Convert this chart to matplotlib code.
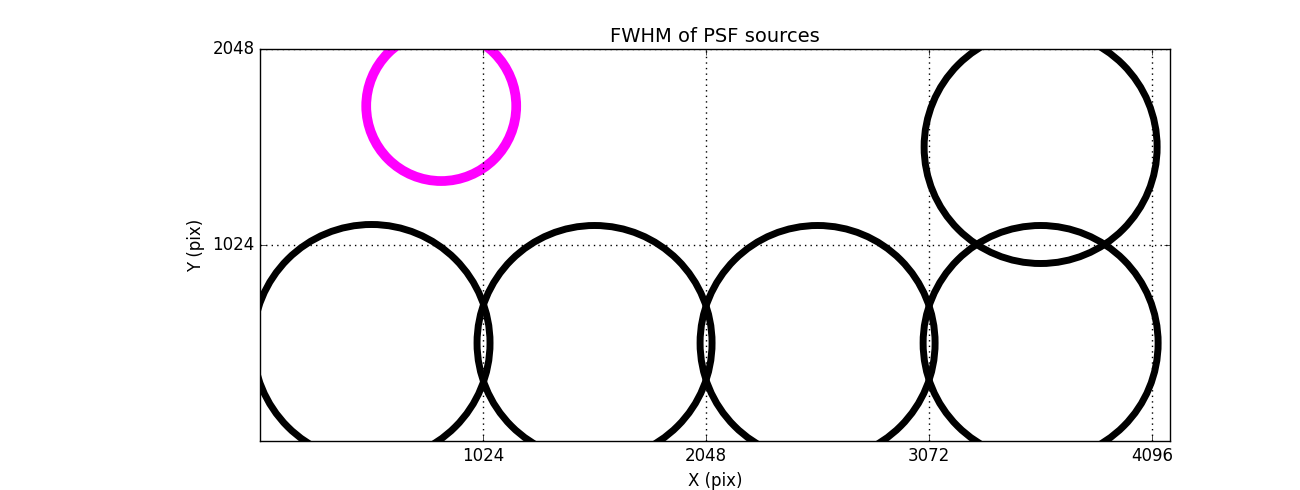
import numpy as np
import matplotlib
matplotlib.use('Agg')
import matplotlib.pyplot as plt

plt.style.use('classic')

# source positions (pix) and marker sizes (FWHM drawn as circle radius, screen px)
x_pos = [512, 1536, 2560, 3584, 3584]
y_pos = [512, 512, 512, 512, 1536]
radius_px = [118.5, 117.5, 117.5, 117.5, 116.5]

# highlighted source
x_hi = [832]
y_hi = [1750]
radius_hi = [75]

x_ticks = [1024, 2048, 3072, 4096]
y_ticks = [1024, 2048]

def size_from_radius(r):
    # scatter size is in points^2, diameter in points
    return (2 * np.asarray(r) * 72.0 / 100.0) ** 2

fig = plt.figure(figsize=(13, 4.9), dpi=100, facecolor='white')
ax = fig.add_axes([0.2, 0.1, 0.7, 0.8])

ax.scatter(x_pos, y_pos, s=size_from_radius(radius_px), facecolors='none',
           edgecolors='black', linewidths=5)
ax.scatter(x_hi, y_hi, s=size_from_radius(radius_hi), facecolors='none',
           edgecolors='#ff00ff', linewidths=7)

ax.set_xlim(0, 4178)
ax.set_ylim(0, 2048)
ax.set_xticks(x_ticks)
ax.set_yticks(y_ticks)
ax.grid(True, color='black', linestyle=':', linewidth=1)
ax.tick_params(direction='in', length=4, labelsize=12)

ax.set_title('FWHM of PSF sources', fontsize=14)
ax.set_xlabel('X (pix)', fontsize=12)
ax.set_ylabel('Y (pix)', fontsize=12)

fig.savefig('out.png', dpi=100, facecolor='white')
